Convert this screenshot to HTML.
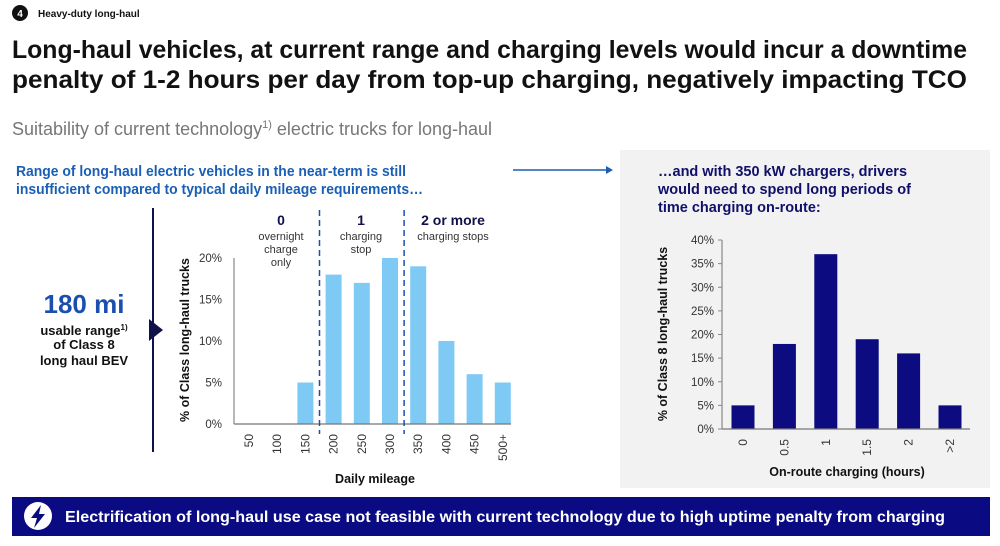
<!DOCTYPE html>
<html><head><meta charset="utf-8"><style>
body{margin:0;background:#fff;width:1000px;height:541px;overflow:hidden;font-family:"Liberation Sans",sans-serif}
svg text{font-family:"Liberation Sans",sans-serif}
</style></head><body>
<svg width="1000" height="541" viewBox="0 0 1000 541">
<circle cx="20" cy="13" r="8" fill="#111"/>
<text x="20" y="17" font-size="10" font-weight="bold" fill="#fff" text-anchor="middle">4</text>
<text x="38" y="17" font-size="10" font-weight="bold" fill="#111">Heavy-duty long-haul</text>
<text x="12" y="58" font-size="25" font-weight="bold" fill="#111" textLength="955" lengthAdjust="spacingAndGlyphs">Long-haul vehicles, at current range and charging levels would incur a downtime</text>
<text x="12" y="88" font-size="25" font-weight="bold" fill="#111" textLength="955" lengthAdjust="spacingAndGlyphs">penalty of 1-2 hours per day from top-up charging, negatively impacting TCO</text>
<text x="12" y="135" font-size="18" fill="#777">Suitability of current technology<tspan font-size="11" dy="-7">1)</tspan><tspan dy="7"> electric trucks for long-haul</tspan></text>
<text x="16" y="176" font-size="14.5" font-weight="bold" fill="#1a5fb4" textLength="390" lengthAdjust="spacingAndGlyphs">Range of long-haul electric vehicles in the near-term is still</text>
<text x="16" y="194" font-size="14.5" font-weight="bold" fill="#1a5fb4" textLength="407" lengthAdjust="spacingAndGlyphs">insufficient compared to typical daily mileage requirements…</text>
<line x1="513" y1="170" x2="606" y2="170" stroke="#1a5fb4" stroke-width="1.5"/>
<polygon points="606,166 613,170 606,174" fill="#1a5fb4"/>
<rect x="620" y="150" width="370" height="338" fill="#f2f2f2"/>
<text x="658" y="176" font-size="14.5" font-weight="bold" fill="#10106a">…and with 350 kW chargers, drivers</text>
<text x="658" y="194" font-size="14.5" font-weight="bold" fill="#10106a">would need to spend long periods of</text>
<text x="658" y="212" font-size="14.5" font-weight="bold" fill="#10106a">time charging on-route:</text>
<text x="84" y="313" font-size="26" font-weight="bold" fill="#1a4fb0" text-anchor="middle">180 mi</text>
<text x="84" y="335" font-size="13" font-weight="bold" fill="#111" text-anchor="middle">usable range<tspan font-size="8" dy="-5">1)</tspan></text>
<text x="84" y="349" font-size="13" font-weight="bold" fill="#111" text-anchor="middle">of Class 8</text>
<text x="84" y="365" font-size="13" font-weight="bold" fill="#111" text-anchor="middle">long haul BEV</text>
<line x1="153" y1="208" x2="153" y2="452" stroke="#10104a" stroke-width="2"/>
<polygon points="149,319 163,330 149,341" fill="#10104a"/>
<g id="left"></g>
<g id="right"></g>
<rect x="12" y="497" width="978" height="39" fill="#0a0a82"/>
<circle cx="38" cy="516" r="14" fill="#fff"/>
<polygon points="41,505 31,518 37,518 34,528 45,514 39,514" fill="#0a0a82"/>
<text x="65" y="522" font-size="15.5" font-weight="bold" fill="#fff" textLength="880" lengthAdjust="spacingAndGlyphs">Electrification of long-haul use case not feasible with current technology due to high uptime penalty from charging</text>
</svg>
<script>
const mileageCats=["50","100","150","200","250","300","350","400","450","500+"];
const mileageVals=[0,0,5,18,17,20,19,10,6,5];
const mileageTicks=[0,5,10,15,20];
const hourCats=["0","0.5","1","1.5","2",">2"];
const hourVals=[5,18,37,19,16,5];
const hourTicks=[0,5,10,15,20,25,30,35,40];
const NS="http://www.w3.org/2000/svg";
function mk(p,t,a,txt){const e=document.createElementNS(NS,t);for(const k in a)e.setAttribute(k,a[k]);if(txt!==undefined)e.textContent=txt;p.appendChild(e);return e;}
function chart(g,cats,vals,ticks,o){
  const y=v=>o.y0-(v/o.max)*(o.y0-o.y1);
  const x=i=>o.x0+o.pad+i*o.step;
  ticks.forEach(t=>{
    const l=mk(g,'text',{x:o.ax-o.lo,y:y(t)+4,'font-size':11.5,fill:'#333','text-anchor':'end'},t+'%');
    
    
    if(o.tickMarks)mk(g,'line',{x1:o.ax-4,x2:o.ax,y1:y(t),y2:y(t),stroke:'#888'});
  });
  const ax=mk(g,'line',{x1:o.ax,x2:o.ax,y1:y(ticks[ticks.length-1]),y2:o.y0,stroke:'#888','stroke-width':1.2});
  
  
  vals.forEach((v,i)=>{
    const r=mk(g,'rect',{x:x(i)-o.bw/2,y:y(v),width:o.bw,height:o.y0-y(v),fill:o.color});
    
    
  });
  const xa=mk(g,'line',{x1:o.ax,x2:o.xend,y1:o.y0,y2:o.y0,stroke:'#777','stroke-width':1.2});
  
  
  cats.forEach((c,i)=>{
    const cx=x(i)+4,cy=o.y0+10;
    const t=mk(g,'text',{x:cx,y:cy,'font-size':12,fill:'#333','text-anchor':'end',transform:`rotate(-90 ${cx} ${cy})`},c);
    
    
  });
  const xt=mk(g,'text',{x:o.xtx,y:o.xty,'font-size':12.5,'font-weight':'bold',fill:'#111','text-anchor':'middle'},o.xtitle);
  
  
  const yx=o.ytx,yy=o.yty;
  const yt=mk(g,'text',{x:yx,y:yy,'font-size':12.5,'font-weight':'bold',fill:'#111','text-anchor':'middle',transform:`rotate(-90 ${yx} ${yy})`},o.ytitle);
  
  
  return x;
}
const L=document.getElementById('left');
const lx=chart(L,mileageCats,mileageVals,mileageTicks,{x0:234,pad:15,step:28.2,bw:16,y0:424,y1:258,max:20,ax:234,lo:12,xend:511,color:'#7fcaf5',xtx:375,xty:483,xtitle:'Daily mileage',ytx:189,yty:340,ytitle:'% of Class long-haul trucks'});
[2.5,5.5].forEach(p=>{const d=mk(L,'line',{x1:lx(p),x2:lx(p),y1:210,y2:434,stroke:'#1a4fb0','stroke-width':1.5,'stroke-dasharray':'6,4'});

});
const grp=[[281,'0',['overnight','charge','only']],[361,'1',['charging','stop']],[453,'2 or more',['charging stops']]];
grp.forEach(([cx,h,lines])=>{
  const t=mk(L,'text',{x:cx,y:225,'font-size':14,'font-weight':'bold',fill:'#10104a','text-anchor':'middle'},h);
  
  
  lines.forEach((s,k)=>mk(L,'text',{x:cx,y:240+k*13,'font-size':11,fill:'#333','text-anchor':'middle'},s));
});
const R=document.getElementById('right');
chart(R,hourCats,hourVals,hourTicks,{x0:722,pad:21,step:41.4,bw:23,y0:429,y1:240,max:40,ax:722,lo:8,xend:970,color:'#0c0c80',tickMarks:true,xtx:847,xty:476,xtitle:'On-route charging (hours)',ytx:667,yty:334,ytitle:'% of Class 8 long-haul trucks'});
</script>
</body></html>
